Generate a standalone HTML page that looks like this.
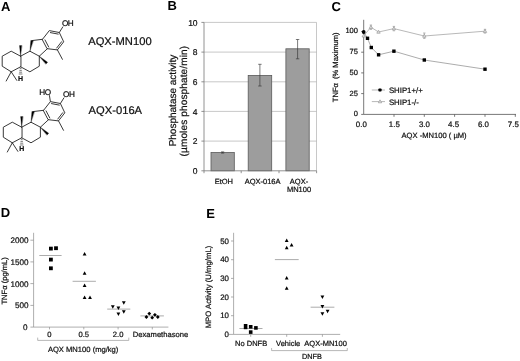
<!DOCTYPE html>
<html><head><meta charset="utf-8">
<style>
html,body{margin:0;padding:0;background:#fff;}
body{width:520px;height:361px;overflow:hidden;}
svg{display:block;will-change:transform;}
text{font-family:"Liberation Sans",sans-serif;fill:#111;text-rendering:geometricPrecision;stroke:#111;stroke-width:0.22px;}
.b{font-weight:bold;font-size:13px;fill:#000;stroke:none;}
.t{font-size:7.5px;}
</style></head><body>
<svg width="520" height="361" viewBox="0 0 520 361">
<rect width="520" height="361" fill="#fff"/>
<defs>
<g id="core" fill="none" stroke="#222" stroke-width="0.9" stroke-linecap="round" stroke-linejoin="round">
  <!-- ring A -->
  <path d="M20.6 56.2 L11.2 51.2 L2.2 56.2 L2.2 66.2 L11.2 71.8 L20.6 66.8 Z"/>
  <!-- ring B -->
  <path d="M20.6 56.2 L29.9 51.2 L39.3 56.2 L39.3 66.2 L29.9 71.8 L20.6 66.8"/>
  <!-- ring C -->
  <path d="M31.9 40.6 L42.5 39.3 M47.4 48.7 L39.3 56.2"/>
  <!-- ring D -->
  <path d="M42.5 39.3 L49.3 30.6 L59.3 32.5 L63.7 41.8 L57.4 49.9 L47.4 48.7 Z"/>
  <!-- inner double bonds -->
  <path d="M50.4 32.6 L58.2 34.1 M61.6 41.7 L56.7 48.0 M45.0 39.9 L48.7 47.0"/>
  <!-- methyl on Ar5 -->
  <path d="M57.4 49.9 L62.4 59.3"/>
  <!-- OH bond Ar3 -->
  <path d="M59.3 32.5 L62.8 26.9"/>
  <!-- gem dimethyl -->
  <path d="M11.2 71.8 L6.2 81.0 M11.2 71.8 L16.8 80.4"/>
  <!-- wedges -->
  <g fill="#000" stroke="#000" stroke-width="0.3">
    <path d="M20.6 56.2 L19.5 45.6 L21.7 45.6 Z"/>
    <path d="M29.9 51.2 L30.8 40.4 L33.1 40.8 Z"/>
    <path d="M39.3 56.2 L47.6 62.2 L46.0 64.0 Z"/>
  </g>
  <!-- hashed H bond -->
  <path d="M20.1 68.6 H21.1 M19.8 70.4 H21.4 M19.5 72.2 H21.7 M19.2 74.0 H22.0" stroke-width="0.6"/>
</g>
</defs>

<!-- ===== Panel A ===== -->
<text class="b" x="0.9" y="10.6">A</text>
<use href="#core"/>
<text x="62" y="26" font-size="8.2" letter-spacing="-0.5">OH</text>
<text x="18.1" y="81.2" font-size="7" font-weight="bold" fill="#222">H</text>
<text x="88.2" y="44.7" font-size="11.2">AQX-MN100</text>

<g transform="translate(1.1,71)">
<use href="#core"/>
<path d="M49.3 30.6 L48.3 24.2" stroke="#222" stroke-width="0.9" fill="none"/>
<text x="62" y="26" font-size="8.2" letter-spacing="-0.5">OH</text>
<text x="38.2" y="23.6" font-size="8.2" letter-spacing="-0.5">HO</text>
<text x="18.1" y="80.4" font-size="7" font-weight="bold" fill="#222">H</text>
</g>
<text x="88.6" y="113.8" font-size="11.2">AQX-016A</text>

<!-- ===== Panel B ===== -->
<text class="b" x="167.4" y="10.4">B</text>
<g stroke="#b0b0b0" stroke-width="0.7" fill="none">
  <path d="M204 22.4 H316.5 V170.8"/>
  <path d="M204 52.1 H316.6 M204 81.8 H316.6 M204 111.4 H316.6 M204 141.1 H316.6"/>
</g>
<g fill="#9d9d9d" stroke="#5a5a5a" stroke-width="0.8">
  <rect x="211" y="152.5" width="23.3" height="18.3"/>
  <rect x="248.2" y="75.4" width="23.5" height="95.4"/>
  <rect x="285.9" y="48.8" width="23.3" height="122"/>
</g>
<g stroke="#333" stroke-width="0.65" fill="none">
  <path d="M222.6 151.9 V153.1 M221 151.9 H224.2 M221 153.1 H224.2"/>
  <path d="M259.9 64.3 V86 M258.2 64.3 H261.6 M258.2 86 H261.6"/>
  <path d="M297.6 39.5 V58.8 M295.9 39.5 H299.3 M295.9 58.8 H299.3"/>
</g>
<g stroke="#777" stroke-width="0.8" fill="none">
  <path d="M204 22.4 V170.8 H316.6"/>
  <path d="M201.4 22.4 H204 M201.4 52.1 H204 M201.4 81.8 H204 M201.4 111.4 H204 M201.4 141.1 H204 M201.4 170.8 H204"/>
  <path d="M204 170.8 V173.2 M241.2 170.8 V173.2 M279 170.8 V173.2 M316.6 170.8 V173.2"/>
</g>
<g font-size="8.5" text-anchor="end">
  <text x="197.6" y="25.6">10</text>
  <text x="197.6" y="55.3">8</text>
  <text x="197.6" y="85">6</text>
  <text x="197.6" y="114.6">4</text>
  <text x="197.6" y="144.3">2</text>
  <text x="197.6" y="174">0</text>
</g>
<g class="t" text-anchor="middle" font-size="7.4">
  <text x="223.8" y="183.8">EtOH</text>
  <text x="262.6" y="183.8">AQX-016A</text>
  <text x="299" y="183.8">AQX-</text>
  <text x="299" y="192.2">MN100</text>
</g>
<text transform="translate(176.1,100.5) rotate(-90)" text-anchor="middle" font-size="10">Phosphatase activity</text>
<text transform="translate(186.9,101.1) rotate(-90)" text-anchor="middle" font-size="10" letter-spacing="0.15">(µmoles phosphate/min)</text>

<!-- ===== Panel C ===== -->
<text class="b" x="331.6" y="10.6">C</text>
<g stroke="#555" stroke-width="0.8" fill="none">
  <path d="M363.7 19.8 V114.4 H516"/>
  <path d="M361.2 31.5 H363.7 M361.2 52.2 H363.7 M361.2 72.9 H363.7 M361.2 93.6 H363.7 M361.2 114.4 H363.7"/>
  <path d="M394 114.4 V116.8 M424.3 114.4 V116.8 M454.6 114.4 V116.8 M485 114.4 V116.8 M515.3 114.4 V116.8"/>
</g>
<!-- gray series -->
<g stroke="#999" stroke-width="0.7" fill="none">
  <path d="M363.7 35.8 L370.9 27.2 L378.5 32 L393.9 28.6 L424.3 36 L485 31.2"/>
  <path d="M370.9 25 V29.4 M369.7 25 H372.1 M369.7 29.4 H372.1"/>
  <path d="M393.9 26.4 V30.8 M392.7 26.4 H395.1 M392.7 30.8 H395.1"/>
  <path d="M424.3 33 V38.4 M423.1 33 H425.5 M423.1 38.4 H425.5"/>
  <path d="M485 29.3 V33.1 M483.8 29.3 H486.2 M483.8 33.1 H486.2"/>
  <g fill="#e4e4e4">
  <path d="M363.7 34 L365.4 37 H362 Z"/>
  <path d="M370.9 25.4 L372.6 28.4 H369.2 Z"/>
  <path d="M378.5 30.2 L380.2 33.2 H376.8 Z"/>
  <path d="M393.9 26.8 L395.6 29.8 H392.2 Z"/>
  <path d="M424.3 34.2 L426 37.2 H422.6 Z"/>
  <path d="M485 29.4 L486.7 32.4 H483.3 Z"/>
  </g>
</g>
<!-- black series -->
<path d="M363.7 32 L367.5 38.3 L371.3 47.5 L378.6 54.8 L393.9 51.2 L424.3 60 L485 69.2" stroke="#888" stroke-width="0.7" fill="none"/>
<g fill="#000">
  <circle cx="363.7" cy="32" r="1.9"/>
  <rect x="365.8" y="36.6" width="3.4" height="3.4"/>
  <rect x="369.6" y="45.8" width="3.4" height="3.4"/>
  <rect x="376.9" y="53.1" width="3.4" height="3.4"/>
  <rect x="392.2" y="49.5" width="3.4" height="3.4"/>
  <rect x="422.6" y="58.3" width="3.4" height="3.4"/>
  <rect x="483.3" y="67.5" width="3.4" height="3.4"/>
</g>
<g font-size="7.5" text-anchor="end">
  <text x="357.9" y="33.4">100</text>
  <text x="357.9" y="54.1">75</text>
  <text x="357.9" y="74.8">50</text>
  <text x="357.9" y="95.5">25</text>
  <text x="357.9" y="116.2">0</text>
</g>
<g font-size="7.9" text-anchor="middle">
  <text x="361.3" y="126.6">0.0</text>
  <text x="394.3" y="126.6">1.5</text>
  <text x="424.4" y="126.6">3.0</text>
  <text x="453.6" y="126.6">4.5</text>
  <text x="483.4" y="126.6">6.0</text>
  <text x="513.3" y="126.6">7.5</text>
</g>
<text x="401.5" y="138.4" font-size="7.6">AQX -MN100 ( µM)</text>
<text transform="translate(337.7,67.3) rotate(-90)" text-anchor="middle" font-size="7.55">TNFα&#160;&#160;(% Maximum)</text>
<!-- legend -->
<path d="M371.8 90 H385" stroke="#999" stroke-width="0.7"/>
<rect x="378.4" y="88.4" width="3.2" height="3.2" rx="0.8" fill="#000"/>
<text x="388.9" y="93.2" font-size="7.8">SHIP1+/+</text>
<path d="M371.8 101.6 H385" stroke="#999" stroke-width="0.7"/>
<path d="M380 99.8 L381.7 102.8 H378.3 Z" fill="#e4e4e4" stroke="#999" stroke-width="0.7"/>
<text x="388.9" y="104.5" font-size="7.8">SHIP1-/-</text>

<!-- ===== Panel D ===== -->
<text class="b" x="0.8" y="217.3">D</text>
<g stroke="#8c8c8c" stroke-width="0.7" fill="none">
  <path d="M33.6 232.8 V327.1 H168.4"/>
  <path d="M30.4 240.2 H33.6 M30.4 261.9 H33.6 M30.4 283.6 H33.6 M30.4 305.4 H33.6 M30.4 327.1 H33.6"/>
  <path d="M49.5 327.1 V329.4 M83.8 327.1 V329.4 M118.1 327.1 V329.4 M152.3 327.1 V329.4"/>
</g>
<g font-size="8.1" text-anchor="end">
  <text x="28.6" y="243.1">2000</text>
  <text x="28.6" y="264.8">1500</text>
  <text x="28.6" y="286.5">1000</text>
  <text x="28.6" y="308.3">500</text>
  <text x="27.4" y="330.3">0</text>
</g>
<g stroke="#909090" stroke-width="0.75">
  <path d="M39.3 255.5 H61.6 M72.6 281.3 H95.9 M107.2 309.1 H130.3 M140.4 315.9 H163.9"/>
</g>
<g fill="#000">
  <rect x="49" y="246.7" width="3.8" height="3.8"/>
  <rect x="54.1" y="246.3" width="3.8" height="3.8"/>
  <rect x="49" y="257.7" width="3.8" height="3.8"/>
  <rect x="49" y="266.4" width="3.8" height="3.8"/>
  <path id="tu" d="M0 -1.9 L1.9 1.6 H-1.9 Z" transform="translate(84.6,253.8)"/>
  <path d="M0 -1.9 L1.9 1.6 H-1.9 Z" transform="translate(84.6,273.2)"/>
  <path d="M0 -1.9 L1.9 1.6 H-1.9 Z" transform="translate(84.6,285.4)"/>
  <path d="M0 -1.9 L1.9 1.6 H-1.9 Z" transform="translate(84.6,297.4)"/>
  <path d="M0 -1.9 L1.9 1.6 H-1.9 Z" transform="translate(90,297.4)"/>
  <path d="M0 1.9 L1.9 -1.6 H-1.9 Z" transform="translate(112.8,306.9)"/>
  <path d="M0 1.9 L1.9 -1.6 H-1.9 Z" transform="translate(118.4,308)"/>
  <path d="M0 1.9 L1.9 -1.6 H-1.9 Z" transform="translate(123.8,302.9)"/>
  <path d="M0 1.9 L1.9 -1.6 H-1.9 Z" transform="translate(118.4,314.1)"/>
  <path d="M0 1.9 L1.9 -1.6 H-1.9 Z" transform="translate(123.8,311.8)"/>
  <path d="M0 -1.9 L1.9 0 L0 1.9 L-1.9 0 Z" transform="translate(146.4,317)"/>
  <path d="M0 -1.9 L1.9 0 L0 1.9 L-1.9 0 Z" transform="translate(149.3,313.6)"/>
  <path d="M0 -1.9 L1.9 0 L0 1.9 L-1.9 0 Z" transform="translate(152.2,317.7)"/>
  <path d="M0 -1.9 L1.9 0 L0 1.9 L-1.9 0 Z" transform="translate(154.9,314.8)"/>
  <path d="M0 -1.9 L1.9 0 L0 1.9 L-1.9 0 Z" transform="translate(157.8,317)"/>
</g>
<g font-size="7.6" text-anchor="middle">
  <text x="49.3" y="337.3">0</text>
  <text x="83.8" y="337.3">0.5</text>
  <text x="118.1" y="337.3">2.0</text>
  <text x="160.5" y="337.3">Dexamethasone</text>
</g>
<path d="M37.7 337.6 V340.4 H128.8 V337.6" stroke="#999" stroke-width="0.7" fill="none"/>
<text x="47.9" y="351.6" font-size="7.6">AQX MN100 (mg/kg)</text>
<text transform="translate(7.2,280.9) rotate(-90)" text-anchor="middle" font-size="7.6">TNFα (pg/mL)</text>

<!-- ===== Panel E ===== -->
<text class="b" x="206.2" y="218.3">E</text>
<g stroke="#8c8c8c" stroke-width="0.7" fill="none">
  <path d="M233.6 232.8 V334.4 H340.2"/>
  <path d="M231 241 H233.6 M231 259.7 H233.6 M231 278.4 H233.6 M231 297 H233.6 M231 315.7 H233.6 M229 334.4 H233.6"/>
  <path d="M250.7 334.4 V336.8 M286.7 334.4 V336.8 M322.4 334.4 V336.8"/>
</g>
<g font-size="7.9" text-anchor="end">
  <text x="229" y="243.8">50</text>
  <text x="229" y="262.4">40</text>
  <text x="229" y="281.1">30</text>
  <text x="229" y="299.7">20</text>
  <text x="229" y="318.4">10</text>
  <text x="229" y="337.1">0</text>
</g>
<g stroke="#909090" stroke-width="0.75">
  <path d="M239.4 328.5 H262.5 M274.9 259.6 H298.7 M310.6 307.2 H334.4"/>
</g>
<g fill="#000">
  <rect x="243.8" y="324" width="3.6" height="5.2"/>
  <rect x="248.9" y="325" width="3.6" height="3.6"/>
  <rect x="254.1" y="326.1" width="3.6" height="3.6"/>
  <rect x="248.9" y="330.3" width="3.6" height="3.6"/>
  <path d="M0 -1.9 L1.9 1.6 H-1.9 Z" transform="translate(286.7,240.5)"/>
  <path d="M0 -1.9 L1.9 1.6 H-1.9 Z" transform="translate(286.7,247.6)"/>
  <path d="M0 -1.9 L1.9 1.6 H-1.9 Z" transform="translate(291.6,245)"/>
  <path d="M0 -1.9 L1.9 1.6 H-1.9 Z" transform="translate(286.7,277.8)"/>
  <path d="M0 -1.9 L1.9 1.6 H-1.9 Z" transform="translate(286.7,288.2)"/>
  <path d="M0 1.9 L1.9 -1.6 H-1.9 Z" transform="translate(322.4,297.2)"/>
  <path d="M0 1.9 L1.9 -1.6 H-1.9 Z" transform="translate(322.4,306.5)"/>
  <path d="M0 1.9 L1.9 -1.6 H-1.9 Z" transform="translate(327.6,311.4)"/>
  <path d="M0 1.9 L1.9 -1.6 H-1.9 Z" transform="translate(322.4,313.9)"/>
</g>
<g font-size="7.5">
  <text x="235.1" y="346.4">No DNFB</text>
  <text x="276.1" y="346.4">Vehicle</text>
  <text x="304.3" y="346.4">AQX-MN100</text>
  <text x="302" y="359.3" font-size="7.3">DNFB</text>
</g>
<path d="M271.6 348 V350.6 H347.3 V348" stroke="#999" stroke-width="0.7" fill="none"/>
<text transform="translate(211.3,287) rotate(-90)" text-anchor="middle" font-size="7.75">MPO Activity (U/mg/mL)</text>
</svg>
</body></html>
